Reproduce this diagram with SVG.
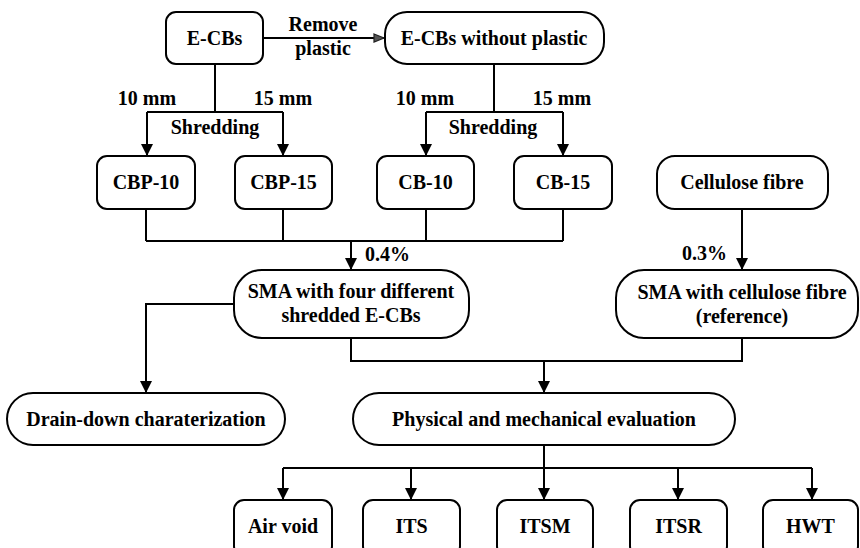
<svg xmlns="http://www.w3.org/2000/svg" width="860" height="548" viewBox="0 0 860 548">
<defs>
<style>
.b{fill:#fff;stroke:#000;stroke-width:2}
.t{font-family:"Liberation Serif","Times New Roman",serif;font-weight:bold;font-size:20px;fill:#000;text-anchor:middle}
.l{font-family:"Liberation Serif","Times New Roman",serif;font-weight:bold;font-size:20px;fill:#000}
.c{fill:none;stroke:#000;stroke-width:2}
</style>
<marker id="ah" viewBox="0 0 12 12" refX="12" refY="6" markerWidth="12" markerHeight="12" markerUnits="userSpaceOnUse" orient="auto">
<path d="M0,0 L12,6 L0,12 Z" fill="#000"/>
</marker>
<marker id="ag" viewBox="0 0 12 10" refX="11" refY="5" markerWidth="12" markerHeight="10" markerUnits="userSpaceOnUse" orient="auto">
<path d="M1,1 L11,5 L1,9 Z" fill="#555" stroke="#222" stroke-width="1.2"/>
</marker>
</defs>
<rect width="860" height="548" fill="#fff"/>
<g id="connectors">
<path class="c" d="M263,38 H384" marker-end="url(#ag)"/>
<path class="c" d="M215,64 V112 M147,112 H283"/>
<path class="c" d="M147,112 V156" marker-end="url(#ah)"/>
<path class="c" d="M283,112 V156" marker-end="url(#ah)"/>
<path class="c" d="M494,64 V112 M426,112 H563"/>
<path class="c" d="M426,112 V156" marker-end="url(#ah)"/>
<path class="c" d="M563,112 V156" marker-end="url(#ah)"/>
<path class="c" d="M146,209 V241 M283,209 V241 M426,209 V241 M563,209 V241 M146,241 H563"/>
<path class="c" d="M351,241 V270" marker-end="url(#ah)"/>
<path class="c" d="M742,209 V270" marker-end="url(#ah)"/>
<path class="c" d="M234,304 H146 V393" marker-end="url(#ah)"/>
<path class="c" d="M351,338 V361 H742 V338"/>
<path class="c" d="M544,361 V393" marker-end="url(#ah)"/>
<path class="c" d="M283,468 H812"/>
<path class="c" d="M283,468 V500" marker-end="url(#ah)"/>
<path class="c" d="M411,468 V500" marker-end="url(#ah)"/>
<path class="c" d="M544,445 V500" marker-end="url(#ah)"/>
<path class="c" d="M678,468 V500" marker-end="url(#ah)"/>
<path class="c" d="M812,468 V500" marker-end="url(#ah)"/>
</g>
<g id="labels">
<text class="t" x="323" y="31">Remove</text>
<text class="t" x="323" y="55">plastic</text>
<text class="t" x="147" y="105">10 mm</text>
<text class="t" x="283" y="105">15 mm</text>
<text class="t" x="215" y="134">Shredding</text>
<text class="t" x="425" y="105">10 mm</text>
<text class="t" x="562" y="105">15 mm</text>
<text class="t" x="493" y="134">Shredding</text>
<text class="l" x="365" y="261">0.4%</text>
<text class="l" x="682" y="260">0.3%</text>
</g>
<g id="ecbs"><rect class="b" x="166" y="12" width="97" height="52" rx="10"/><text class="t" x="214.5" y="45">E-CBs</text></g>
<g id="ecbs-np"><rect class="b" x="385" y="12" width="219" height="52" rx="22"/><text class="t" x="494" y="45">E-CBs without plastic</text></g>
<g id="cbp10"><rect class="b" x="97" y="156" width="98" height="53" rx="10"/><text class="t" x="146" y="189">CBP-10</text></g>
<g id="cbp15"><rect class="b" x="235" y="156" width="97" height="53" rx="10"/><text class="t" x="283.5" y="189">CBP-15</text></g>
<g id="cb10"><rect class="b" x="377" y="156" width="97" height="53" rx="10"/><text class="t" x="425.5" y="189">CB-10</text></g>
<g id="cb15"><rect class="b" x="514" y="156" width="98" height="53" rx="10"/><text class="t" x="563" y="189">CB-15</text></g>
<g id="cellulose"><rect class="b" x="657" y="156" width="171" height="53" rx="18"/><text class="t" x="742" y="189">Cellulose fibre</text></g>
<g id="sma-four"><rect class="b" x="234" y="270" width="235" height="68" rx="28"/><text class="t" x="351" y="298">SMA with four different</text><text class="t" x="351" y="322">shredded E-CBs</text></g>
<g id="sma-ref"><rect class="b" x="616" y="270" width="242" height="68" rx="28"/><text class="t" x="742" y="299">SMA with cellulose fibre</text><text class="t" x="742" y="323">(reference)</text></g>
<g id="drain"><rect class="b" x="7" y="393" width="278" height="52" rx="26"/><text class="t" x="146" y="426">Drain-down charaterization</text></g>
<g id="physical"><rect class="b" x="353" y="393" width="382" height="52" rx="26"/><text class="t" x="544" y="426">Physical and mechanical evaluation</text></g>
<g id="airvoid"><rect class="b" x="234" y="500" width="98" height="56" rx="10"/><text class="t" x="283" y="533">Air void</text></g>
<g id="its"><rect class="b" x="363" y="500" width="97" height="56" rx="10"/><text class="t" x="411.5" y="533">ITS</text></g>
<g id="itsm"><rect class="b" x="497" y="500" width="96" height="56" rx="10"/><text class="t" x="545" y="533">ITSM</text></g>
<g id="itsr"><rect class="b" x="630" y="500" width="97" height="56" rx="10"/><text class="t" x="678.5" y="533">ITSR</text></g>
<g id="hwt"><rect class="b" x="763" y="500" width="95" height="56" rx="10"/><text class="t" x="810.5" y="533">HWT</text></g>
</svg>
